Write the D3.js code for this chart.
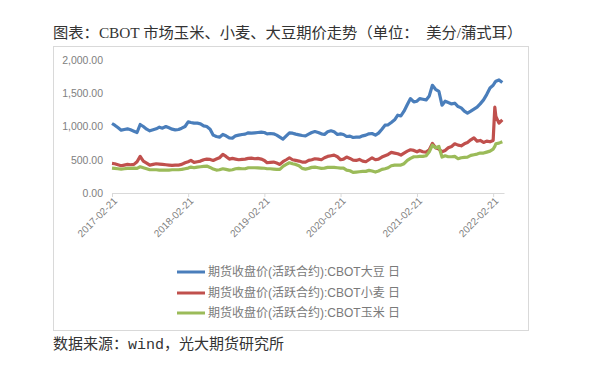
<!DOCTYPE html>
<html><head><meta charset="utf-8">
<script src="https://cdn.jsdelivr.net/npm/d3@7"></script>
<style>body{margin:0;background:#fff}</style></head>
<body>
<svg id="c" width="595" height="372"></svg>
<script>
const dates = [
"2017-02-21","2017-03-06","2017-03-21","2017-04-06","2017-04-21","2017-05-06","2017-05-21","2017-06-06","2017-06-21","2017-07-06","2017-07-21","2017-08-06","2017-08-21","2017-09-06","2017-09-21","2017-10-06","2017-10-21","2017-11-06","2017-11-21","2017-12-06","2017-12-21",
"2018-01-06","2018-01-21","2018-02-06","2018-02-21","2018-03-06","2018-03-21","2018-04-06","2018-04-21","2018-05-06","2018-05-21","2018-06-06","2018-06-21","2018-07-06","2018-07-21","2018-08-06","2018-08-21","2018-09-06","2018-09-21","2018-10-06","2018-10-21","2018-11-06","2018-11-21","2018-12-06","2018-12-21",
"2019-01-06","2019-01-21","2019-02-06","2019-02-21","2019-03-06","2019-03-21","2019-04-06","2019-04-21","2019-05-06","2019-05-21","2019-06-06","2019-06-21","2019-07-06","2019-07-21","2019-08-06","2019-08-21","2019-09-06","2019-09-21","2019-10-06","2019-10-21","2019-11-06","2019-11-21","2019-12-06","2019-12-21",
"2020-01-06","2020-01-21","2020-02-06","2020-02-21","2020-03-06","2020-03-21","2020-04-06","2020-04-21","2020-05-06","2020-05-21","2020-06-06","2020-06-21","2020-07-06","2020-07-21","2020-08-06","2020-08-21","2020-09-06","2020-09-21","2020-10-06","2020-10-21","2020-11-06","2020-11-21","2020-12-06","2020-12-21",
"2021-01-06","2021-01-21","2021-02-06","2021-02-21","2021-03-06","2021-03-21","2021-04-06","2021-04-21","2021-05-06","2021-05-21","2021-06-06","2021-06-21","2021-07-06","2021-07-21","2021-08-06","2021-08-21","2021-09-06","2021-09-21","2021-10-06","2021-10-21","2021-11-06","2021-11-21","2021-12-06","2021-12-21",
"2022-01-06","2022-01-21","2022-02-06","2022-02-21","2022-03-01","2022-03-06","2022-03-21","2022-04-06"
];
const soybean = [
1045,1020,985,945,955,965,950,930,910,1030,1000,960,935,950,965,990,975,1000,980,960,950,
955,975,1000,1070,1060,1050,1050,1040,1010,1000,960,870,850,840,880,860,830,825,860,870,880,885,905,900,
905,910,915,910,890,895,890,870,840,810,860,905,900,885,875,865,860,885,910,925,910,890,880,920,
935,920,880,890,880,850,855,835,840,840,860,870,890,895,870,900,960,1020,1025,1060,1100,1170,1160,1230,
1330,1420,1370,1380,1420,1410,1400,1460,1620,1560,1530,1320,1380,1360,1340,1350,1300,1280,1230,1200,1230,1260,1290,1340,
1400,1480,1580,1620,1660,1680,1700,1660
];
const wheat = [
445,440,425,410,420,430,425,430,470,550,480,450,420,430,440,435,430,425,420,415,420,
420,430,455,470,490,460,470,480,500,510,505,490,510,530,580,550,510,520,510,500,505,510,520,525,
515,520,510,490,455,460,465,450,430,470,500,530,500,490,480,465,465,490,500,515,510,500,530,550,
560,570,545,500,510,540,520,495,490,505,480,470,500,530,500,510,540,560,580,610,600,590,570,600,
630,650,640,620,640,620,615,650,745,680,660,620,640,680,700,740,720,710,740,760,800,830,780,790,
760,780,770,790,1290,1150,1050,1100
];
const corn = [
375,370,365,360,365,370,370,375,370,395,380,365,350,350,350,345,345,345,345,350,350,
350,355,365,375,390,380,390,395,400,405,385,360,345,350,365,355,345,350,365,370,365,365,380,380,
380,378,375,372,365,365,360,355,355,400,430,455,440,430,410,370,360,370,385,390,380,370,375,385,
385,385,380,375,375,345,335,310,315,320,325,325,340,330,315,330,355,365,380,410,420,420,420,440,
490,520,545,545,550,550,560,620,720,680,700,540,560,545,545,550,515,530,535,540,565,575,585,600,
600,615,630,660,700,740,750,770
];
const yTicks = [0, 500, 1000, 1500, 2000];
const xTickLabels = ["2017-02-21","2018-02-21","2019-02-21","2020-02-21","2021-02-21","2022-02-21"];
const seriesNames = ["期货收盘价(活跃合约):CBOT大豆 日","期货收盘价(活跃合约):CBOT小麦 日","期货收盘价(活跃合约):CBOT玉米 日"];
const seriesColors = ["#4A7EBB","#C0504D","#9BBB59"];
const titleText = "图表：CBOT 市场玉米、小麦、大豆期价走势（单位：  美分/蒲式耳）";
const sourceText = "数据来源：wind，光大期货研究所";

const parse = d3.timeParse("%Y-%m-%d");
const svg = d3.select("#c");
svg.append("rect").attr("width",595).attr("height",372).attr("fill","#fff");

svg.append("text").attr("x",53).attr("y",38)
  .attr("font-family","'Liberation Serif','Noto Sans CJK SC'").attr("font-size",15.3)
  .attr("fill","#333").style("white-space","pre").text(titleText);

svg.append("rect").attr("x",53.5).attr("y",46.5).attr("width",475).attr("height",284)
  .attr("fill","none").attr("stroke","#d9d9d9");

const x = d3.scaleTime().domain([parse("2017-02-21"), parse("2022-04-14")]).range([112, 504]);
const y = d3.scaleLinear().domain([0, 2000]).range([193, 60]);

const xAxis = svg.append("g").attr("transform","translate(0,193)")
  .call(d3.axisBottom(x).tickValues(xTickLabels.map(parse)).tickSize(4).tickSizeOuter(0)
        .tickFormat(d3.timeFormat("%Y-%m-%d")));
xAxis.select(".domain").attr("stroke","#d9d9d9");
xAxis.selectAll(".tick line").attr("stroke","#d9d9d9");
xAxis.selectAll(".tick text").attr("transform","translate(3,6) rotate(-45)")
  .attr("x",0).attr("y",0).attr("dy","0.35em").attr("text-anchor","end")
  .attr("fill","#808080").attr("font-size",10).attr("font-family","'Liberation Sans',Arial");

const yAxis = svg.append("g").attr("transform","translate(108,0)")
  .call(d3.axisLeft(y).tickValues(yTicks).tickSize(0).tickPadding(5).tickFormat(d3.format(",.2f")));
yAxis.select(".domain").remove();
yAxis.selectAll(".tick text").attr("fill","#808080").attr("font-size",10.5)
  .attr("font-family","'Liberation Sans',Arial");

const series = [soybean, wheat, corn];
const line = d3.line().x((d,i)=>x(parse(dates[i]))).y(d=>y(d));
series.forEach((s,k)=>{
  svg.append("path").datum(s).attr("d",line).attr("fill","none")
    .attr("stroke",seriesColors[k]).attr("stroke-width",3.2).attr("stroke-linejoin","round");
});

const legendY = [272, 293, 313];
seriesNames.forEach((n,k)=>{
  svg.append("line").attr("x1",177).attr("x2",205).attr("y1",legendY[k]).attr("y2",legendY[k])
    .attr("stroke",seriesColors[k]).attr("stroke-width",3);
  svg.append("text").attr("x",208).attr("y",legendY[k]+4).attr("font-size",12)
    .attr("font-family","'Liberation Sans','Noto Sans CJK SC'").attr("fill","#7a7a7a").text(n);
});

svg.append("text").attr("x",53).attr("y",349)
  .attr("font-family","'Liberation Mono','Noto Sans CJK SC'").attr("font-size",15)
  .attr("fill","#333").text(sourceText);
</script>
</body></html>
